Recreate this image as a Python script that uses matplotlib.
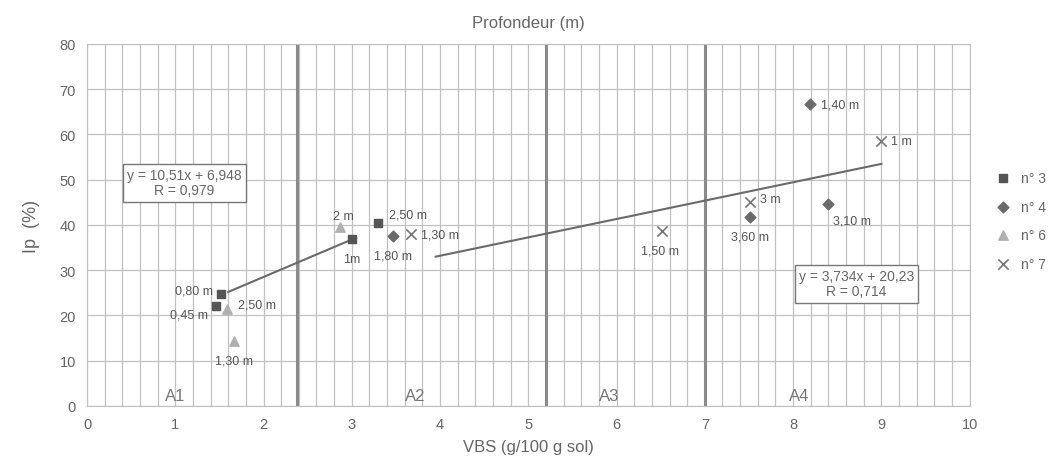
import matplotlib.pyplot as plt
import numpy as np

plt.rcParams['font.family'] = ['Liberation Sans', 'DejaVu Sans']

# n° 3 (squares)
x3 = [1.52, 1.46, 3.0, 3.3]
y3 = [24.8, 22.1, 36.8, 40.5]
lab3 = ["0,80 m", "0,45 m", "1m", "2,50 m"]
off3 = [(-6, 2, 'right'), (-6, -6, 'right'), (0, -14, 'center'), (8, 6, 'left')]

# n° 4 (diamonds)
x4 = [3.47, 8.19, 7.51, 8.39]
y4 = [37.6, 66.7, 41.8, 44.6]
lab4 = ["1,80 m", "1,40 m", "3,60 m", "3,10 m"]
off4 = [(0, -14, 'center'), (8, 0, 'left'), (0, -14, 'center'), (4, -12, 'left')]

# n° 6 (triangles)
x6 = [1.59, 1.67, 2.87]
y6 = [21.4, 14.4, 39.5]
lab6 = ["2,50 m", "1,30 m", "2 m"]
off6 = [(8, 3, 'left'), (0, -14, 'center'), (2, 8, 'center')]

# n° 7 (crosses)
x7 = [3.67, 6.52, 7.51, 9.0]
y7 = [38.0, 38.7, 45.1, 58.6]
lab7 = ["1,30 m", "1,50 m", "3 m", "1 m"]
off7 = [(7, 0, 'left'), (-2, -14, 'center'), (7, 2, 'left'), (7, 0, 'left')]

# trend lines
trend1_x = [1.6, 3.05]
trend1_y = [25.2, 37.2]
trend2_x = [3.95, 9.0]
trend2_y = [33.0, 53.5]

zones_x = [2.38, 5.2, 7.0]
zone_names = ["A1", "A2", "A3", "A4"]
zone_label_x = [1.0, 3.72, 5.92, 8.07]

fig = plt.figure(figsize=(10.52, 4.77), dpi=100)
ax = fig.add_axes([0.0827, 0.1468, 0.839, 0.7589])

ax.set_xlim(0, 10)
ax.set_ylim(0, 80)
ax.set_xticks(np.arange(0, 11, 1))
ax.set_yticks(np.arange(0, 81, 10))
ax.set_xticks(np.arange(0, 10.01, 0.2), minor=True)
ax.grid(True, which='both', axis='x', color='#c0c0c0', lw=0.9)
ax.grid(True, which='major', axis='y', color='#c0c0c0', lw=0.9)
ax.set_axisbelow(True)
for s in ax.spines.values():
    s.set_color('#c0c0c0')
ax.tick_params(which='both', length=0, colors='#666666', labelsize=10.5, pad=8)

for zx in zones_x:
    ax.axvline(zx, color='#8a8a8a', lw=2.2, zorder=1.5)
for zx, zn in zip(zone_label_x, zone_names):
    ax.text(zx, 0.6, zn, ha='center', va='bottom', fontsize=12, color='#777777')

ax.plot(trend1_x, trend1_y, color='#6a6a6a', lw=1.5, zorder=2)
ax.plot(trend2_x, trend2_y, color='#6a6a6a', lw=1.5, zorder=2)

ax.scatter(x3, y3, marker='s', s=40, color='#555555', label="n° 3", zorder=3)
ax.scatter(x4, y4, marker='D', s=30, color='#6a6a6a', label="n° 4", zorder=3)
ax.scatter(x6, y6, marker='^', s=45, color='#b0b0b0', label="n° 6", zorder=3)
ax.scatter(x7, y7, marker='x', s=55, color='#777777', linewidths=1.2, label="n° 7", zorder=3)

for xs, ys, labs, offs in [(x3, y3, lab3, off3), (x4, y4, lab4, off4),
                           (x6, y6, lab6, off6), (x7, y7, lab7, off7)]:
    for xv, yv, lb, (dx, dy, ha) in zip(xs, ys, labs, offs):
        ax.annotate(lb, (xv, yv), xytext=(dx, dy), textcoords='offset points',
                    ha=ha, va='center', fontsize=9, color='#555555', zorder=4)

box = dict(boxstyle='square,pad=0.3', fc='white', ec='#777777', lw=1)
ax.text(1.1, 49.3, "y = 10,51x + 6,948\nR = 0,979", ha='center', va='center',
        fontsize=10, color='#666666', bbox=box, linespacing=1.1, zorder=5)
ax.text(8.72, 27.0, "y = 3,734x + 20,23\nR = 0,714", ha='center', va='center',
        fontsize=10, color='#666666', bbox=box, linespacing=1.1, zorder=5)

ax.set_xlabel("VBS (g/100 g sol)", fontsize=12, color='#666666', labelpad=6)
ax.set_ylabel("Ip  (%)", fontsize=13, color='#666666', labelpad=14)
ax.set_title("Profondeur (m)", fontsize=12, color='#666666', pad=12)

fig.legend(loc='center left', bbox_to_anchor=(0.928, 0.535), frameon=False,
           fontsize=10, labelcolor='#666666', handletextpad=0.3, labelspacing=1.05)

fig.savefig("out.png")
